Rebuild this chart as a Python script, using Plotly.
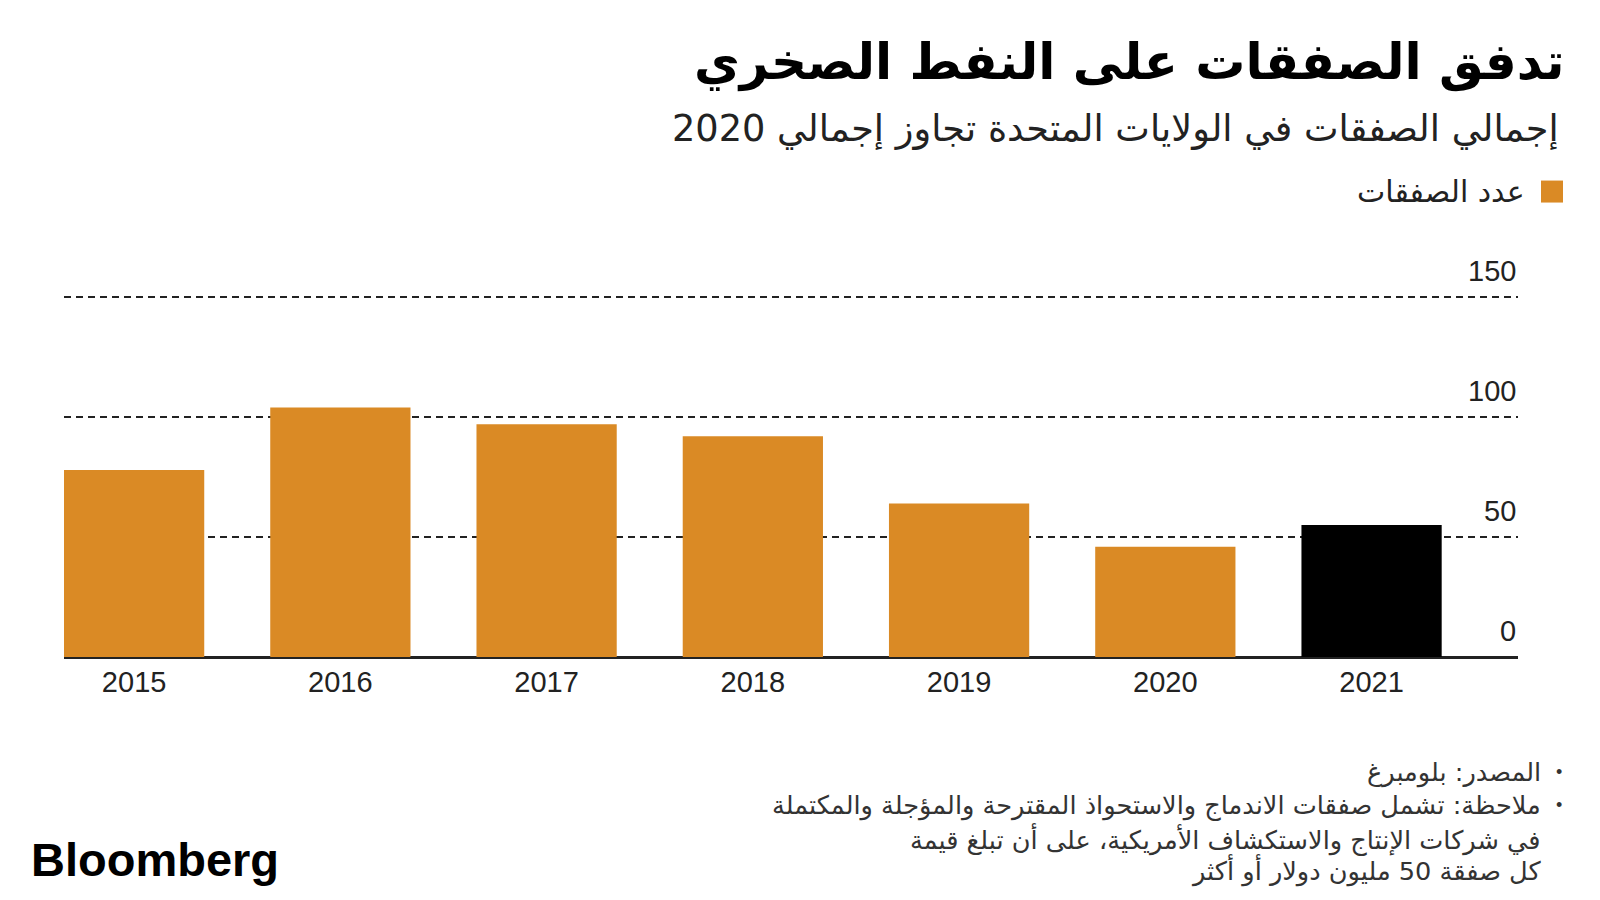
import plotly.graph_objects as go

years = [2015, 2016, 2017, 2018, 2019, 2020, 2021]
year_labels = ["2015", "2016", "2017", "2018", "2019", "2020", "2021"]
deals = [78, 104, 97, 92, 64, 46, 55]
bar_colors = ["#DA8A25"] * 6 + ["#000000"]
y_ticks = [0, 50, 100, 150]

title_text = "تدفق الصفقات على النفط الصخري"
subtitle_text = "إجمالي الصفقات في الولايات المتحدة تجاوز إجمالي 2020"
legend_text = "عدد الصفقات"
footer_lines = [
    "المصدر: بلومبرغ",
    "ملاحظة: تشمل صفقات الاندماج والاستحواذ المقترحة والمؤجلة والمكتملة",
    "في شركات الإنتاج والاستكشاف الأمريكية، على أن تبلغ قيمة",
    "كل صفقة 50 مليون دولار أو أكثر",
]

W, H = 1600, 900
Y_MAX = 153
L, R, B = 64, 1518, 656.7
T = B - 2.4 * Y_MAX
AR = "DejaVu Sans"
LAT = "Liberation Sans, Arial, sans-serif"


def px(x):
    return (x - L) / (R - L)


def py(y):
    return (B - y) / (B - T)


fig = go.Figure()
fig.add_trace(go.Bar(
    x=years, y=deals, width=0.68,
    marker=dict(color=bar_colors, line=dict(width=0)),
    name=legend_text, showlegend=False, hoverinfo="x+y",
))

ann = []
for v in y_ticks:
    ann.append(dict(x=1, xref="paper", y=v, yref="y", xanchor="right", yanchor="middle",
                    yshift=26, text=str(v), showarrow=False,
                    font=dict(family=LAT, size=29, color="#222")))

ann.append(dict(x=px(1566), y=py(62), xref="paper", yref="paper", xanchor="right", yanchor="middle",
                text="<b>" + title_text + "</b>", showarrow=False,
                font=dict(family=AR, size=50, color="#000")))
ann.append(dict(x=px(1561), y=py(128), xref="paper", yref="paper", xanchor="right", yanchor="middle",
                text=subtitle_text, showarrow=False,
                font=dict(family=AR, size=36.7, color="#222")))
ann.append(dict(x=px(1527), y=py(191), xref="paper", yref="paper", xanchor="right", yanchor="middle",
                text=legend_text, showarrow=False,
                font=dict(family=AR, size=30, color="#222")))

footer_y = [772, 805, 839, 870]
for i, (t, yy) in enumerate(zip(footer_lines, footer_y)):
    ann.append(dict(x=px(1543), y=py(yy), xref="paper", yref="paper", xanchor="right", yanchor="middle",
                    text=t, showarrow=False, font=dict(family=AR, size=25.6, color="#333")))
    if i < 2:
        ann.append(dict(x=px(1559), y=py(yy), xref="paper", yref="paper", xanchor="center", yanchor="middle",
                        text="•", showarrow=False, font=dict(family=LAT, size=18, color="#333")))

ann.append(dict(x=px(29), y=py(859), xref="paper", yref="paper", xanchor="left", yanchor="middle",
                text="<b>Bloomberg</b>", showarrow=False,
                font=dict(family=LAT, size=47, color="#000")))

fig.update_layout(
    width=W, height=H,
    paper_bgcolor="white", plot_bgcolor="white",
    margin=dict(l=L, r=W - R, t=T, b=H - B, pad=0),
    showlegend=False,
    annotations=ann,
    shapes=[dict(type="rect", xref="paper", yref="paper",
                 x0=px(1541), x1=px(1563), y0=py(202), y1=py(180),
                 fillcolor="#DA8A25", line=dict(width=0))],
    xaxis=dict(range=[2014.66, 2021.71], tickvals=years, ticktext=year_labels,
               showgrid=False, zeroline=False, showline=False, ticks="",
               tickfont=dict(family=LAT, size=29, color="#222"), ticklabelstandoff=5),
    yaxis=dict(range=[0, Y_MAX], tickvals=y_ticks, showticklabels=False,
               showgrid=True, gridcolor="#222", gridwidth=1.5, griddash="7px,5px",
               zeroline=True, zerolinecolor="#222", zerolinewidth=3, showline=False),
    bargap=0.32,
)

fig.write_html("out.html", config={"displayModeBar": False},
               post_script="document.body.style.margin='0';")
